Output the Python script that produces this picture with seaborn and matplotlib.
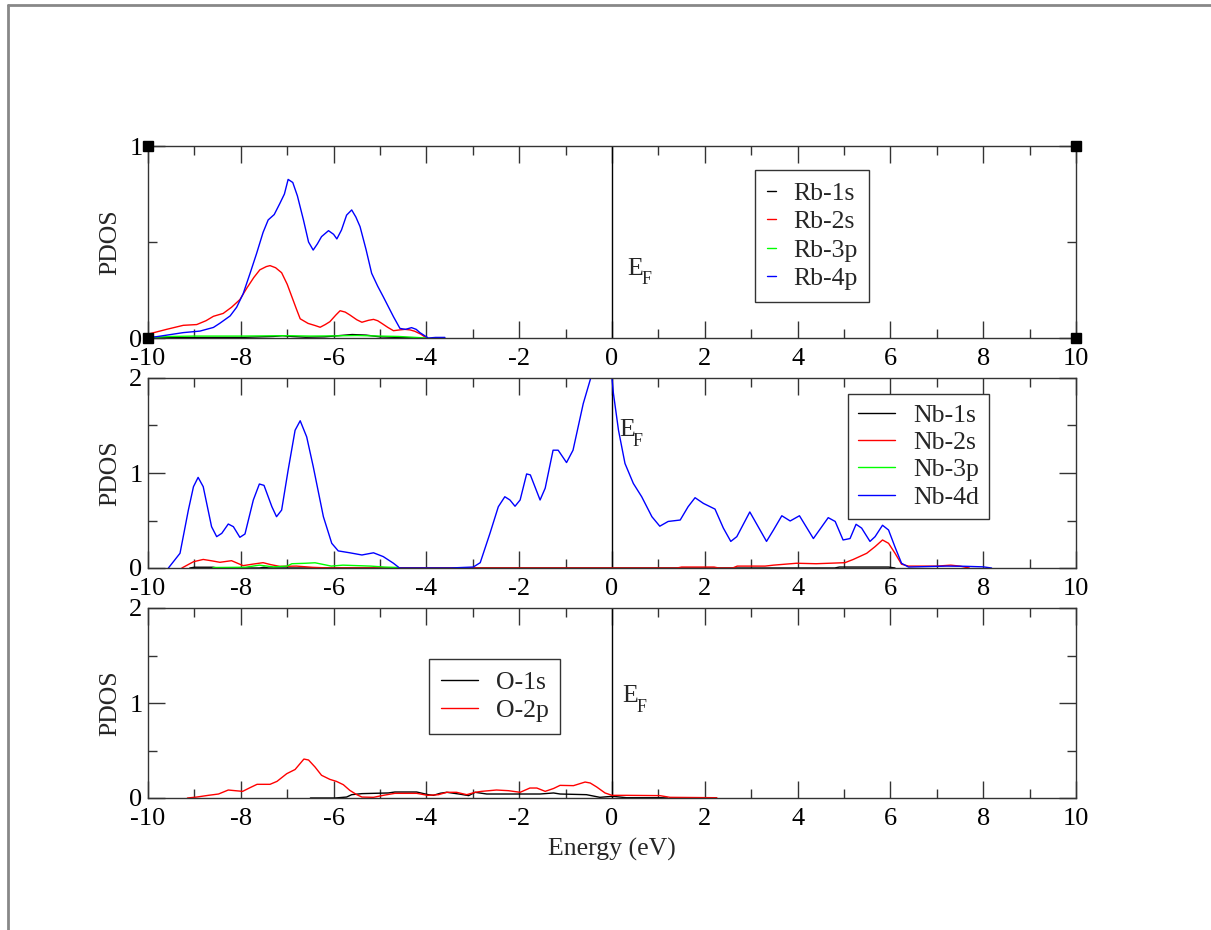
import matplotlib
matplotlib.use("Agg")
import numpy as np
import pandas as pd
import seaborn as sns
import matplotlib.pyplot as plt
from matplotlib.ticker import MultipleLocator, FixedLocator
from matplotlib.lines import Line2D

# ---------------- data (energy eV, PDOS) ----------------
rb1s = [(-9.9, 0.002), (-8.0, 0.003), (-7.3, 0.008), (-7.1, 0.012), (-6.9, 0.008), (-6.6, 0.004),
        (-6.2, 0.006), (-5.9, 0.012), (-5.6, 0.018), (-5.3, 0.015), (-5.0, 0.006), (-4.6, 0.003), (-4.2, 0.0)]
rb2s = [(-10.0, 0.02), (-9.6, 0.045), (-9.24, 0.066), (-8.95, 0.07), (-8.75, 0.09), (-8.59, 0.113),
        (-8.38, 0.128), (-8.20, 0.16), (-8.02, 0.20), (-7.87, 0.26), (-7.72, 0.315), (-7.59, 0.355),
        (-7.45, 0.372), (-7.37, 0.377), (-7.25, 0.366), (-7.12, 0.34), (-7.00, 0.28), (-6.90, 0.215),
        (-6.80, 0.15), (-6.72, 0.10), (-6.55, 0.076), (-6.40, 0.065), (-6.29, 0.056), (-6.18, 0.07),
        (-6.08, 0.085), (-5.95, 0.12), (-5.86, 0.142), (-5.75, 0.135), (-5.65, 0.12), (-5.50, 0.095),
        (-5.39, 0.082), (-5.25, 0.092), (-5.14, 0.097), (-5.05, 0.09), (-4.96, 0.076), (-4.83, 0.055),
        (-4.71, 0.038), (-4.58, 0.042), (-4.46, 0.045), (-4.35, 0.042), (-4.25, 0.035), (-4.12, 0.02),
        (-4.00, 0.0)]
rb3p = [(-9.95, 0.002), (-9.5, 0.008), (-9.0, 0.010), (-8.5, 0.010), (-8.0, 0.010), (-7.5, 0.011),
        (-7.0, 0.012), (-6.5, 0.010), (-6.0, 0.011), (-5.5, 0.013), (-5.0, 0.010), (-4.6, 0.008),
        (-4.3, 0.004), (-4.0, 0.0)]
rb4p = [(-9.96, 0.003), (-9.81, 0.007), (-9.24, 0.028), (-8.88, 0.036), (-8.59, 0.055), (-8.45, 0.077),
        (-8.23, 0.115), (-8.09, 0.16), (-7.95, 0.23), (-7.80, 0.337), (-7.66, 0.44), (-7.52, 0.55),
        (-7.41, 0.615), (-7.28, 0.643), (-7.16, 0.70), (-7.06, 0.75), (-6.98, 0.826), (-6.88, 0.81),
        (-6.78, 0.74), (-6.65, 0.615), (-6.54, 0.50), (-6.44, 0.458), (-6.35, 0.49), (-6.26, 0.528),
        (-6.11, 0.559), (-6.00, 0.54), (-5.93, 0.516), (-5.83, 0.5625), (-5.72, 0.64), (-5.61, 0.667),
        (-5.52, 0.63), (-5.43, 0.58), (-5.30, 0.46), (-5.18, 0.337), (-5.05, 0.27), (-4.93, 0.215),
        (-4.71, 0.111), (-4.57, 0.05), (-4.45, 0.045), (-4.32, 0.054), (-4.22, 0.045), (-4.14, 0.028),
        (-3.96, 0.0), (-3.8, 0.003), (-3.6, 0.003)]

nb1s = [(-9.1, 0.0), (-9.0, 0.008), (-8.6, 0.008), (-8.5, 0.0), (-7.6, 0.0), (-7.5, 0.008), (-7.4, 0.0),
        (4.8, 0.0), (4.9, 0.01), (5.96, 0.01), (6.1, 0.0)]
nb2s = [(-9.27, 0.0), (-9.02, 0.066), (-8.81, 0.09), (-8.62, 0.075), (-8.45, 0.06), (-8.2, 0.077),
        (-7.95, 0.025), (-7.75, 0.04), (-7.52, 0.056), (-7.35, 0.035), (-7.16, 0.017), (-6.8, 0.02),
        (-6.45, 0.007), (-6.08, 0.0), (1.4, 0.0), (1.5, 0.01), (2.2, 0.01), (2.3, 0.0), (2.6, 0.0),
        (2.7, 0.02), (3.3, 0.02), (3.48, 0.03), (3.98, 0.05), (4.4, 0.045), (5.02, 0.056), (5.2, 0.09),
        (5.49, 0.155), (5.67, 0.225), (5.83, 0.295), (5.96, 0.26), (6.1, 0.155), (6.24, 0.04),
        (6.39, 0.02), (7.0, 0.02), (7.3, 0.03), (7.5, 0.02), (7.7, 0.0)]
nb3p = [(-8.6, 0.005), (-7.9, 0.008), (-7.6, 0.03), (-7.3, 0.012), (-7.0, 0.02), (-6.9, 0.045),
        (-6.6, 0.05), (-6.4, 0.055), (-6.2, 0.035), (-6.05, 0.02), (-5.8, 0.03), (-5.2, 0.02),
        (-4.9, 0.01), (-4.6, 0.005)]
nb4d = [(-9.56, 0.0), (-9.31, 0.155), (-9.13, 0.61), (-9.02, 0.856), (-8.92, 0.954), (-8.81, 0.856),
        (-8.63, 0.435), (-8.52, 0.33), (-8.41, 0.365), (-8.27, 0.463), (-8.16, 0.435), (-8.02, 0.323),
        (-7.91, 0.358), (-7.73, 0.716), (-7.60, 0.884), (-7.50, 0.87), (-7.33, 0.645), (-7.23, 0.54),
        (-7.12, 0.61), (-6.98, 1.03), (-6.83, 1.45), (-6.72, 1.55), (-6.58, 1.38), (-6.44, 1.07),
        (-6.22, 0.54), (-6.04, 0.26), (-5.90, 0.18), (-5.65, 0.16), (-5.39, 0.137), (-5.14, 0.16),
        (-4.93, 0.12), (-4.71, 0.05), (-4.58, 0.0), (-4.0, 0.0), (-3.5, 0.0), (-2.99, 0.01),
        (-2.84, 0.056), (-2.63, 0.365), (-2.45, 0.645), (-2.31, 0.75), (-2.20, 0.716), (-2.09, 0.65),
        (-1.98, 0.716), (-1.84, 0.99), (-1.76, 0.98), (-1.55, 0.716), (-1.44, 0.84), (-1.27, 1.24),
        (-1.16, 1.24), (-0.98, 1.11), (-0.84, 1.24), (-0.62, 1.73), (-0.44, 2.03), (-0.30, 2.25),
        (-0.15, 2.3), (-0.02, 2.1), (0.03, 1.84), (0.14, 1.45), (0.28, 1.10), (0.46, 0.89), (0.64, 0.75),
        (0.86, 0.54), (1.03, 0.44), (1.21, 0.49), (1.47, 0.505), (1.64, 0.645), (1.79, 0.74),
        (1.97, 0.68), (2.22, 0.62), (2.40, 0.42), (2.56, 0.28), (2.69, 0.33), (2.97, 0.59), (3.15, 0.435),
        (3.33, 0.28), (3.48, 0.40), (3.66, 0.55), (3.84, 0.495), (4.04, 0.55), (4.34, 0.31), (4.66, 0.53),
        (4.81, 0.49), (4.98, 0.295), (5.13, 0.31), (5.26, 0.46), (5.38, 0.42), (5.56, 0.28), (5.67, 0.33),
        (5.83, 0.45), (5.96, 0.40), (6.10, 0.22), (6.24, 0.05), (6.39, 0.01), (6.8, 0.015), (7.2, 0.02),
        (7.6, 0.018), (8.0, 0.012), (8.18, 0.0)]

o1s = [(-6.5, 0.0), (-5.97, 0.0), (-5.72, 0.01), (-5.61, 0.035), (-5.39, 0.046), (-4.82, 0.053),
       (-4.68, 0.063), (-4.21, 0.063), (-3.96, 0.035), (-3.85, 0.028), (-3.70, 0.05), (-3.56, 0.06),
       (-3.27, 0.04), (-3.09, 0.025), (-2.95, 0.06), (-2.70, 0.042), (-1.98, 0.042), (-1.55, 0.042),
       (-1.26, 0.053), (-1.12, 0.042), (-0.55, 0.035), (-0.26, 0.007), (0.01, 0.018), (0.31, 0.003),
       (1.06, 0.003), (1.2, 0.0)]
o2p = [(-9.15, 0.0), (-8.95, 0.01), (-8.70, 0.028), (-8.48, 0.042), (-8.27, 0.084), (-8.12, 0.077),
       (-7.96, 0.07), (-7.80, 0.109), (-7.65, 0.144), (-7.37, 0.144), (-7.22, 0.175), (-7.01, 0.256),
       (-6.83, 0.30), (-6.64, 0.41), (-6.54, 0.40), (-6.40, 0.326), (-6.26, 0.239), (-6.08, 0.196),
       (-5.94, 0.175), (-5.79, 0.14), (-5.65, 0.08), (-5.50, 0.035), (-5.39, 0.01), (-5.14, 0.007),
       (-4.93, 0.028), (-4.68, 0.049), (-4.21, 0.049), (-3.97, 0.028), (-3.74, 0.035), (-3.56, 0.06),
       (-3.35, 0.06), (-3.13, 0.035), (-2.95, 0.06), (-2.81, 0.07), (-2.49, 0.084), (-2.23, 0.077),
       (-1.98, 0.06), (-1.77, 0.105), (-1.62, 0.105), (-1.44, 0.07), (-1.26, 0.10), (-1.12, 0.133),
       (-0.83, 0.13), (-0.58, 0.168), (-0.47, 0.158), (-0.33, 0.116), (-0.15, 0.053), (0.0, 0.028),
       (0.31, 0.028), (1.03, 0.025), (1.25, 0.007), (2.26, 0.003)]

rb_labels = ["Rb-1s", "Rb-2s", "Rb-3p", "Rb-4p"]
nb_labels = ["Nb-1s", "Nb-2s", "Nb-3p", "Nb-4d"]
o_labels = ["O-1s", "O-2p"]
xticks = [-10, -8, -6, -4, -2, 0, 2, 4, 6, 8, 10]
ef_main, ef_sub = "E", "F"

colors = ["#000000", "#ff0000", "#00ff00", "#0000ff"]

# ---------------- style ----------------
sns.set_style("ticks")
plt.rcParams["font.family"] = ["Liberation Serif", "DejaVu Serif"]
plt.rcParams["axes.unicode_minus"] = False

FW, FH = 1211, 930
fig = plt.figure(figsize=(FW / 100, FH / 100), dpi=100)
fig.patch.set_facecolor("white")

L, W = 148 / FW, 928 / FW
panel_px = [(338, 192), (568, 190), (798, 190)]
axes = [fig.add_axes([L, 1 - b / FH, W, h / FH]) for b, h in panel_px]

groups = [
    (axes[0], [rb1s, rb2s, rb3p, rb4p], rb_labels, 1, (0.34, 0.33)),
    (axes[1], [nb1s, nb2s, nb3p, nb4d], nb_labels, 2, (0.15, 1.39)),
    (axes[2], [o1s, o2p], o_labels, 2, (0.23, 1.01)),
]

for ax, series, labels, ymax, efpos in groups:
    for s, lab, col in zip(series, labels, colors):
        df = pd.DataFrame(s, columns=["E", "PDOS"])
        sns.lineplot(data=df, x="E", y="PDOS", ax=ax, color=col, linewidth=1.0,
                     label=lab, sort=False, estimator=None)
    ax.axvline(0, color="black", lw=1.0, zorder=1)
    ax.set_xlim(-10, 10)
    ax.set_ylim(0, ymax)
    ax.xaxis.set_major_locator(FixedLocator(xticks))
    ax.xaxis.set_minor_locator(MultipleLocator(1))
    ax.yaxis.set_major_locator(MultipleLocator(1))
    ax.yaxis.set_minor_locator(MultipleLocator(0.5))
    ax.tick_params(which="both", direction="in", top=True, right=True, width=1.0,
                   colors="#333333", labelcolor="black", labelsize=19)
    ax.tick_params(which="major", length=12.5)
    ax.tick_params(axis="x", which="major", pad=7)
    ax.tick_params(axis="y", which="major", pad=4)
    ax.tick_params(which="minor", length=6.5)
    for sp in ax.spines.values():
        sp.set_color("#333333")
        sp.set_linewidth(1.0)
    ax.set_xlabel("")
    ax.set_ylabel("PDOS", fontsize=18.5)
    ax.yaxis.set_label_coords(-0.029, 0.5)
    ax.text(efpos[0], efpos[1], ef_main, fontsize=18.5, ha="left", va="baseline")
    ax.annotate(ef_sub, xy=efpos, xytext=(10, -7), textcoords="offset points",
                fontsize=13, ha="left", va="baseline")

axes[2].set_xlabel("Energy (eV)", fontsize=18.5, labelpad=6)

# legends: (axes, top-left px, handle length, border pad, label spacing)
leg_specs = [
    (axes[0], (755, 170), 0.35, 0.45, 0.22),
    (axes[1], (848, 394), 1.45, 0.38, 0.17),
    (axes[2], (429, 659), 1.45, 0.45, 0.22),
]
for ax, (lx, ly), hl, bp, ls in leg_specs:
    leg = ax.legend(loc="upper left", bbox_to_anchor=(lx / FW, 1 - ly / FH),
                    bbox_transform=fig.transFigure, frameon=True, fancybox=False,
                    edgecolor="#333333", framealpha=1, fontsize=18.5, handlelength=hl,
                    handletextpad=0.7, borderpad=bp, labelspacing=ls, borderaxespad=0)
    leg.get_frame().set_linewidth(1.0)

# corner handles of the selected top graph
axes[0].plot([0, 1, 0, 1], [0, 0, 1, 1], "s", color="black", ms=7,
             transform=axes[0].transAxes, clip_on=False, zorder=5)

# page border lines
fig.add_artist(Line2D([8 / FW, 1], [1 - 5 / FH, 1 - 5 / FH], transform=fig.transFigure,
                      color="#888888", lw=2))
fig.add_artist(Line2D([8 / FW, 8 / FW], [0, 1 - 5 / FH], transform=fig.transFigure,
                      color="#888888", lw=2))

fig.savefig("out.png", dpi=100, facecolor="white")
